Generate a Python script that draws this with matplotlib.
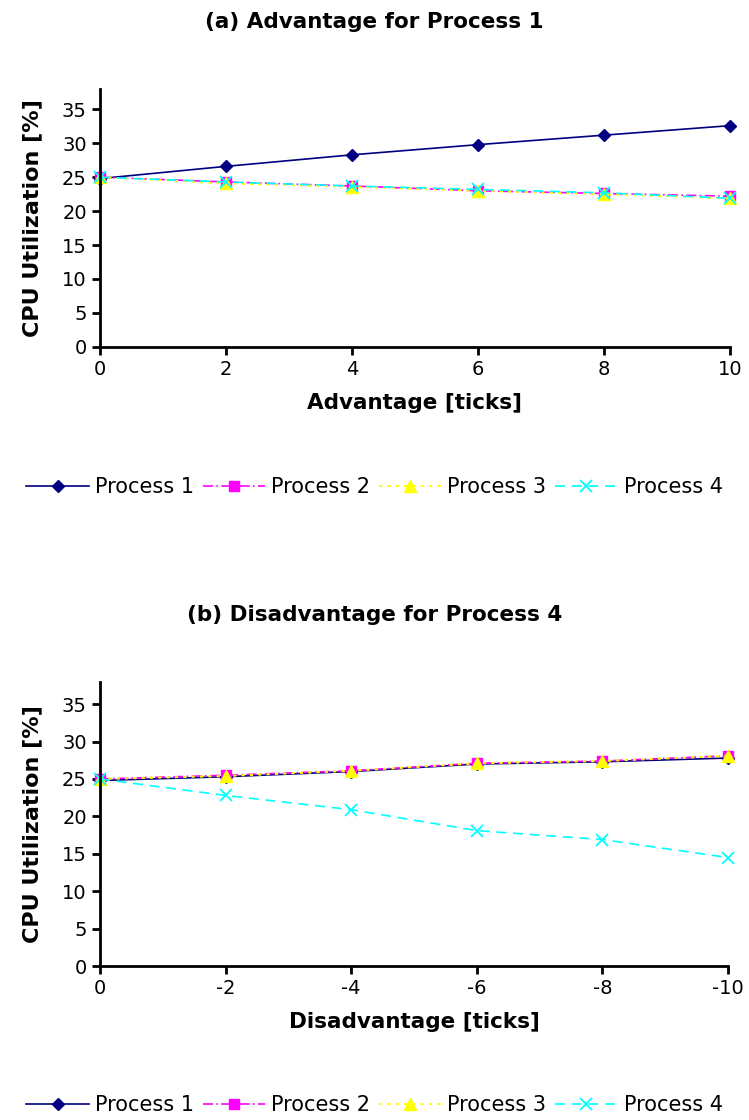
import matplotlib
matplotlib.use("Agg")
import matplotlib.pyplot as plt

plt.rcParams["font.family"] = ["DejaVu Sans"]

# ---------- data ----------
adv_ticks = [0, 2, 4, 6, 8, 10]
adv_p1 = [24.8, 26.6, 28.3, 29.8, 31.2, 32.6]
adv_p2 = [25.0, 24.3, 23.7, 23.0, 22.6, 22.2]
adv_p3 = [25.0, 24.1, 23.6, 23.0, 22.5, 21.9]
adv_p4 = [25.0, 24.3, 23.7, 23.2, 22.7, 21.9]

dis_ticks = [0, -2, -4, -6, -8, -10]
dis_p1 = [24.8, 25.3, 26.0, 27.0, 27.3, 27.8]
dis_p2 = [25.0, 25.5, 26.1, 27.1, 27.4, 28.1]
dis_p3 = [25.0, 25.4, 26.1, 27.1, 27.4, 28.1]
dis_p4 = [25.0, 22.8, 20.9, 18.1, 16.9, 14.5]

labels = ["Process 1", "Process 2", "Process 3", "Process 4"]
y_ticks = [0, 5, 10, 15, 20, 25, 30, 35]

styles = [
    dict(color="#000080", ls="-", marker="D", ms=6, lw=1.2),
    dict(color="#ff00ff", ls=(0, (6, 2, 1, 2)), marker="s", ms=7, lw=1.2),
    dict(color="#ffff00", ls=(0, (1.5, 2.5)), marker="^", ms=8, lw=1.5),
    dict(color="#00ffff", ls=(0, (6, 4)), marker="x", ms=8, mew=1.3, lw=1.2),
]


def draw_panel(ax, x, series, title, xlabel, fig_title_y):
    lines = []
    for y, st in zip(series, styles):
        ln, = ax.plot(x, y, clip_on=False, **st)
        lines.append(ln)
    ax.set_ylim(0, 38)
    ax.set_yticks(y_ticks)
    ax.set_xticks(x)
    ax.set_xticklabels([str(v) for v in x])
    ax.spines["top"].set_visible(False)
    ax.spines["right"].set_visible(False)
    ax.spines["left"].set_linewidth(2)
    ax.spines["bottom"].set_linewidth(2)
    ax.tick_params(axis="both", labelsize=14, width=2, length=6, direction="out")
    ax.set_ylabel("CPU Utilization [%]", fontsize=16, fontweight="bold", labelpad=14)
    ax.set_xlabel(xlabel, fontsize=15.5, fontweight="bold", labelpad=10)
    fig.text(0.5, fig_title_y, title, ha="center", va="center",
             fontsize=15.5, fontweight="bold")
    return lines


fig = plt.figure(figsize=(7.49, 11.2), dpi=100)

ax1 = fig.add_axes([0.1335, 0.6904, 0.8411, 0.2301])
lines = draw_panel(ax1, adv_ticks, [adv_p1, adv_p2, adv_p3, adv_p4],
                   "(a) Advantage for Process 1", "Advantage [ticks]", 1 - 22 / 1120)
ax1.set_xlim(0, 10)

ax2 = fig.add_axes([0.1335, 0.1375, 0.8384, 0.2538])
draw_panel(ax2, dis_ticks, [dis_p1, dis_p2, dis_p3, dis_p4],
           "(b) Disadvantage for Process 4", "Disadvantage [ticks]", 1 - 615 / 1120)
ax2.set_xlim(0, -10)

for ypos in [1 - 487 / 1120, 1 - 1105 / 1120]:
    fig.legend(lines, labels, loc="center", bbox_to_anchor=(0.5, ypos), ncol=4,
               frameon=False, fontsize=15, handlelength=3.0, columnspacing=0.4,
               handletextpad=0.3, borderaxespad=0)

fig.savefig("out.png", dpi=100)
